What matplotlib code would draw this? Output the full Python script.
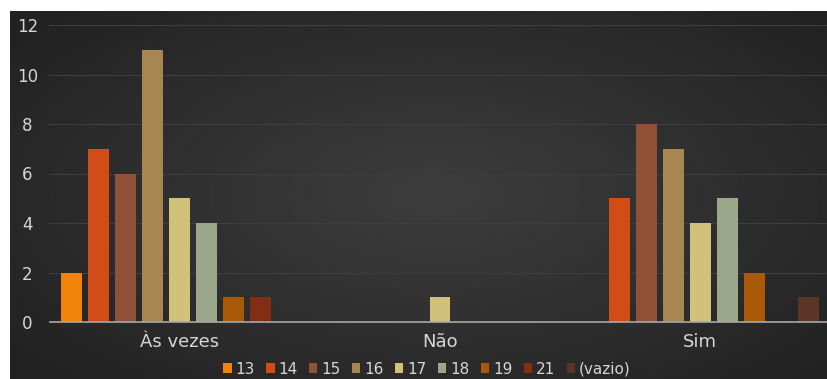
import numpy as np
import matplotlib.pyplot as plt
from matplotlib.patches import Patch

categories = ['Às vezes', 'Não', 'Sim']
series = ['13', '14', '15', '16', '17', '18', '19', '21', '(vazio)']
values = {
    '13': [2, 0, 0],
    '14': [7, 0, 5],
    '15': [6, 0, 8],
    '16': [11, 0, 7],
    '17': [5, 1, 4],
    '18': [4, 0, 5],
    '19': [1, 0, 2],
    '21': [1, 0, 0],
    '(vazio)': [0, 0, 1],
}
colors = ['#f08409', '#d24c17', '#8f5236', '#a7864f', '#d0c27a',
          '#9ba78b', '#a95a08', '#812f13', '#5b3626']

W, H = 828, 379
fig = plt.figure(figsize=(W / 100, H / 100), dpi=100)
fig.patch.set_facecolor('white')

# dark radial background panel
bg = fig.add_axes([10 / W, 0, 1 - 10 / W, 1 - 11 / H])
yy, xx = np.mgrid[0:1:200j, 0:1:400j]
r = np.sqrt(((xx - 0.52) / 0.65) ** 2 + ((yy - 0.5) / 0.7) ** 2)
shade = np.clip(1 - r, 0, 1)
gray = 0.135 + 0.105 * shade
bg.imshow(gray, cmap='gray', vmin=0, vmax=1, aspect='auto',
          extent=[0, 1, 0, 1])
bg.set_axis_off()

ax = fig.add_axes([49.5 / W, (H - 322) / H, 781 / W, 297 / H])
ax.set_facecolor('none')

x = np.arange(len(categories))
slot = 0.1036
width = 0.0806
for i, (name, c) in enumerate(zip(series, colors)):
    ax.bar(x + (i - 4) * slot, values[name], width, color=c,
           linewidth=0, zorder=3)

ax.set_xlim(-0.5, 2.5)
ax.set_ylim(0, 12)
ax.set_yticks(range(0, 13, 2))
ax.set_xticks(x)
ax.set_xticklabels(categories)
ax.grid(axis='y', color='#3e3e3e', linewidth=0.8, zorder=0)
ax.tick_params(colors='#d6d6d6', labelsize=12, length=0)
ax.tick_params(axis='x', pad=8, labelsize=13)
for s in ['top', 'right', 'left']:
    ax.spines[s].set_visible(False)
ax.spines['bottom'].set_color('#a8a8a8')
ax.spines['bottom'].set_linewidth(1.2)
ax.spines['bottom'].set_zorder(4)
for t in ax.get_yticklabels():
    t.set_horizontalalignment('center')
ax.tick_params(axis='y', pad=16)

handles = [Patch(facecolor=c, label=n) for n, c in zip(series, colors)]
leg = fig.legend(handles=handles, loc='center', bbox_to_anchor=(427 / W, 1 - 369 / H),
                 ncol=9, frameon=False, fontsize=11, handlelength=0.55,
                 handleheight=0.55, handletextpad=0.25, columnspacing=0.75)
for t in leg.get_texts():
    t.set_color('#d6d6d6')

fig.savefig('out.png', dpi=100)
